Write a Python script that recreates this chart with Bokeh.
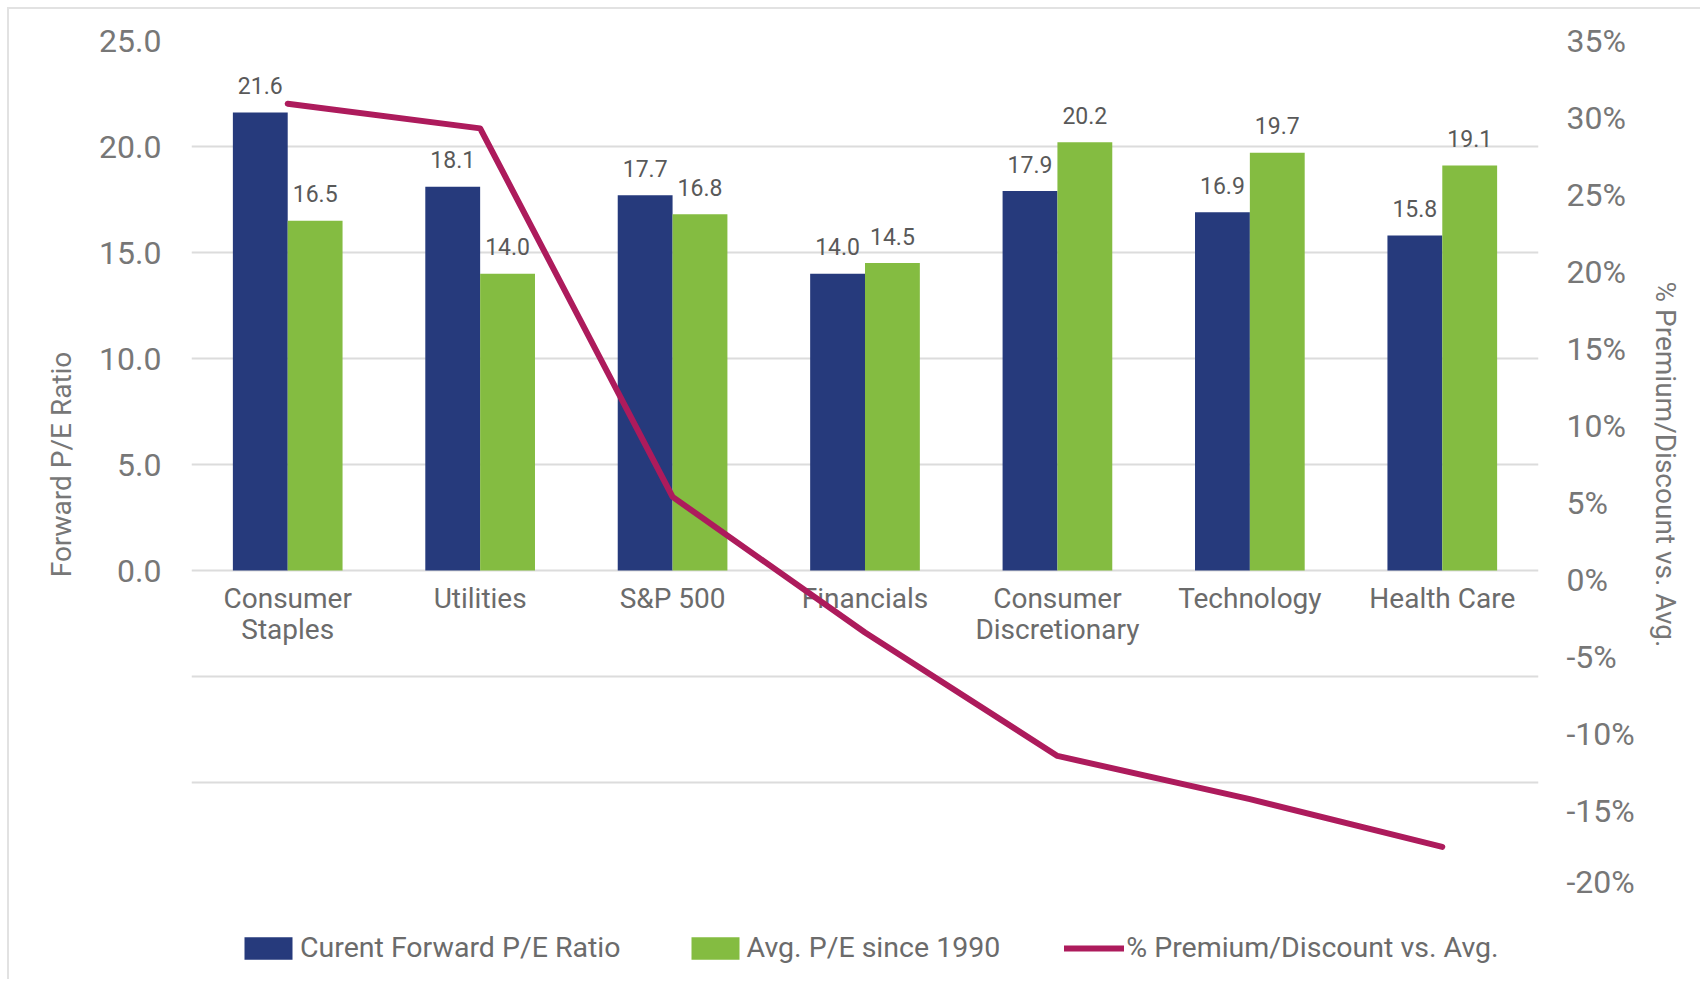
from bokeh.plotting import figure
from bokeh.layouts import column
from bokeh.models import (Range1d, FactorRange, LinearAxis, FixedTicker, PrintfTickFormatter,
                          NumeralTickFormatter, Legend, LegendItem, ColumnDataSource)
from bokeh.transform import dodge
from bokeh.core.properties import value
from bokeh.embed import file_html
from bokeh.resources import INLINE

# ---- data ----
categories = ["Consumer Staples", "Utilities", "S&P 500", "Financials",
              "Consumer Discretionary", "Technology", "Health Care"]
category_labels = ["Consumer\nStaples", "Utilities", "S&P 500", "Financials",
                   "Consumer\nDiscretionary", "Technology", "Health Care"]
current_pe = [21.6, 18.1, 17.7, 14.0, 17.9, 16.9, 15.8]
avg_pe = [16.5, 14.0, 16.8, 14.5, 20.2, 19.7, 19.1]
premium_pct = [30.9, 29.3, 5.4, -3.4, -11.4, -14.2, -17.3]
left_ticks = [0, 5, 10, 15, 20, 25]
grid_ticks = [-15, -10, -5, 0, 5, 10, 15, 20, 25]
right_ticks = [-20, -15, -10, -5, 0, 5, 10, 15, 20, 25, 30, 35]
series_names = ["Curent Forward P/E Ratio", "Avg. P/E since 1990", "% Premium/Discount vs. Avg."]

BLUE = "#263A7C"
GREEN = "#84BC41"
MAGENTA = "#AD1B5C"
AXIS_GRAY = "#777777"
TEXT_GRAY = "#6b6b6b"
LABEL_GRAY = "#595959"
FONT = "Roboto"

src = ColumnDataSource(dict(
    cat=categories, lab=category_labels, cur=current_pe, avg=avg_pe, pct=premium_pct,
    cur_txt=[f"{v:.1f}" for v in current_pe], avg_txt=[f"{v:.1f}" for v in avg_pe],
))

p = figure(x_range=FactorRange(*categories), y_range=Range1d(-15, 25),
           width=1700, height=900, output_backend="svg", toolbar_location=None,
           min_border_left=191, min_border_right=162, min_border_top=40, min_border_bottom=12)
p.extra_y_ranges = {"pct": Range1d(-20, 35)}
p.outline_line_color = None
p.background_fill_color = "white"
p.border_fill_color = None

p.xaxis.visible = False
p.xgrid.visible = False
p.ygrid.ticker = FixedTicker(ticks=grid_ticks)
p.ygrid.grid_line_color = "#dcdcdc"
p.ygrid.grid_line_width = 2

ya = p.yaxis[0]
ya.ticker = FixedTicker(ticks=left_ticks)
ya.formatter = NumeralTickFormatter(format="0.0")
ya.axis_line_color = None
ya.major_tick_line_color = None
ya.minor_tick_line_color = None
ya.major_tick_out = 0
ya.major_tick_in = 0
ya.major_label_standoff = 30
ya.major_label_text_font = FONT
ya.major_label_text_font_size = "32px"
ya.major_label_text_color = AXIS_GRAY
ya.axis_label = "Forward P/E Ratio"
ya.axis_label_text_font = FONT
ya.axis_label_text_font_size = "28px"
ya.axis_label_text_font_style = "normal"
ya.axis_label_text_color = AXIS_GRAY
ya.axis_label_standoff = 18

ra = LinearAxis(y_range_name="pct", ticker=FixedTicker(ticks=right_ticks),
                formatter=PrintfTickFormatter(format="%d%%"))
ra.axis_line_color = None
ra.major_tick_line_color = None
ra.minor_tick_line_color = None
ra.major_tick_out = 0
ra.major_tick_in = 0
ra.major_label_standoff = 28
ra.major_label_text_font = FONT
ra.major_label_text_font_size = "32px"
ra.major_label_text_color = AXIS_GRAY
ra.axis_label = "% Premium/Discount vs. Avg."
ra.axis_label_text_font = FONT
ra.axis_label_text_font_size = "28px"
ra.axis_label_text_font_style = "normal"
ra.axis_label_text_color = AXIS_GRAY
ra.axis_label_standoff = 11
p.add_layout(ra, "right")

W = 0.285
r1 = p.vbar(x=dodge("cat", -W / 2, range=p.x_range), top="cur", width=W, source=src,
            fill_color=BLUE, line_color=None)
r2 = p.vbar(x=dodge("cat", W / 2, range=p.x_range), top="avg", width=W, source=src,
            fill_color=GREEN, line_color=None)

p.text(x=dodge("cat", -W / 2, range=p.x_range), y="cur", text="cur_txt", source=src,
       text_align="center", text_baseline="alphabetic", y_offset=-27,
       text_font=value(FONT), text_font_size="23px", text_color=LABEL_GRAY)
p.text(x=dodge("cat", W / 2, range=p.x_range), y="avg", text="avg_txt", source=src,
       text_align="center", text_baseline="alphabetic", y_offset=-27,
       text_font=value(FONT), text_font_size="23px", text_color=LABEL_GRAY)

p.text(x="cat", y=0, text="lab", source=src, text_align="center", text_baseline="top",
       y_offset=11, text_font=value(FONT), text_font_size="28px", text_color=TEXT_GRAY,
       text_line_height=0.95)

r3 = p.line(x="cat", y="pct", y_range_name="pct", source=src, line_color=MAGENTA,
            line_width=6, line_cap="round", line_join="round")

# ---- legend strip (separate figure under the chart; its marks fall outside its view) ----
pl = figure(width=1700, height=79, output_backend="svg", toolbar_location=None,
            x_range=FactorRange(*categories), y_range=Range1d(100, 101),
            x_axis_location=None, y_axis_location=None, min_border=0)
pl.grid.visible = False
pl.outline_line_color = None
pl.background_fill_color = None
pl.border_fill_color = None
l1 = pl.vbar(x="cat", top="cur", width=W, source=src, fill_color=BLUE, line_color=None)
l2 = pl.vbar(x="cat", top="avg", width=W, source=src, fill_color=GREEN, line_color=None)
l3 = pl.line(x="cat", y="pct", source=src, line_color=MAGENTA, line_width=6, line_cap="round")

legend = Legend(items=[LegendItem(label=series_names[0], renderers=[l1]),
                       LegendItem(label=series_names[1], renderers=[l2]),
                       LegendItem(label=series_names[2], renderers=[l3])],
                orientation="horizontal", location=(47, 15),
                glyph_width=60, glyph_height=28, label_standoff=2, spacing=64,
                padding=0, margin=0,
                label_text_font=FONT, label_text_font_size="28.5px", label_text_color=TEXT_GRAY,
                background_fill_alpha=0, border_line_color=None)
pl.add_layout(legend, "center")

layout = column(p, pl, spacing=0)
layout.styles = {"box-shadow": "inset 7px 7px 0 0 white, inset 9px 9px 0 0 #e2e2e2"}

open("out.html", "w").write(file_html(layout, INLINE))
